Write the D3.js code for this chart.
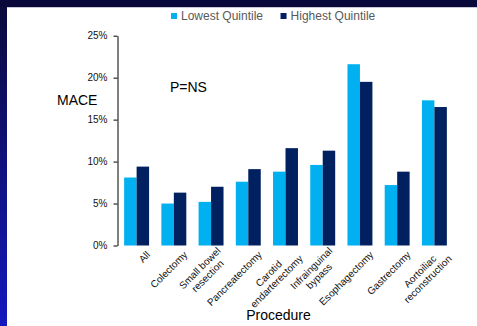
<!DOCTYPE html>
<html>
<head>
<meta charset="utf-8">
<script src="https://cdn.jsdelivr.net/npm/d3@7"></script>
<style>
  html, body { margin: 0; padding: 0; background: #fff; overflow: hidden; width: 477px; height: 326px; }
  svg { display: block; font-family: "Liberation Sans", Arial, sans-serif; }
</style>
</head>
<body>
<svg id="chart"></svg>
<script>
// chart data
var categories = ["All", "Colectomy", "Small bowel\nresection", "Pancreatectomy", "Carotid\nendarterectomy",
    "Infrainguinal\nbypass", "Esophagectomy", "Gastrectomy", "Aortoiliac\nreconstruction"];
var seriesNames = ["Lowest Quintile", "Highest Quintile"];
var lowestQuintile = [0.081, 0.050, 0.052, 0.076, 0.088, 0.096, 0.216, 0.072, 0.173];
var highestQuintile = [0.094, 0.063, 0.070, 0.091, 0.116, 0.113, 0.195, 0.088, 0.165];
var yTicks = [0, 0.05, 0.10, 0.15, 0.20, 0.25];

var svgWidth = 477, svgHeight = 326;
var colors = ["#00b0f0", "#002060"];

var svg = d3.select("#chart")
    .attr("width", svgWidth)
    .attr("height", svgHeight);

// slide frame: dark strip on top, gradient strip on the left
var defs = svg.append("defs");
var grad = defs.append("linearGradient").attr("id", "leftStrip")
    .attr("x1", 0).attr("y1", 0).attr("x2", 0).attr("y2", 1);
grad.append("stop").attr("offset", "0%").attr("stop-color", "#0a0a3a");
grad.append("stop").attr("offset", "100%").attr("stop-color", "#1518bd");

svg.append("rect").attr("width", svgWidth).attr("height", svgHeight).attr("fill", "#fff");
svg.append("rect").attr("x", 0).attr("y", 0).attr("width", 7).attr("height", svgHeight).attr("fill", "url(#leftStrip)");
svg.append("rect").attr("x", 0).attr("y", 0).attr("width", svgWidth).attr("height", 7).attr("fill", "#08083a");
svg.append("rect").attr("x", 7).attr("y", 7).attr("width", svgWidth - 7).attr("height", 1).attr("fill", "#c9c9d6");

var rows = categories.map(function (c, i) {
    return { cat: c, values: [lowestQuintile[i], highestQuintile[i]] };
});

var x0 = d3.scaleBand()
    .domain(categories)
    .range([118, 453])
    .paddingInner(0.33)
    .paddingOuter(0.165);

var x1 = d3.scaleBand()
    .domain([0, 1])
    .range([0, x0.bandwidth()]);

var yScale = d3.scaleLinear()
    .domain([0, 0.25])
    .range([245.5, 35.7]);

// bars
var groups = svg.append("g").selectAll("g")
    .data(rows)
    .enter()
    .append("g")
    .attr("transform", function (d) { return "translate(" + x0(d.cat) + ",0)"; });

groups.selectAll("rect")
    .data(function (d) { return d.values; })
    .enter()
    .append("rect")
    .attr("x", function (d, i) { return x1(i); })
    .attr("y", function (d) { return yScale(d); })
    .attr("width", x1.bandwidth())
    .attr("height", function (d) { return yScale(0) - yScale(d); })
    .attr("fill", function (d, i) { return colors[i]; });

// y axis
var y_axis = d3.axisLeft(yScale)
    .tickValues(yTicks)
    .tickFormat(d3.format(".0%"))
    .tickSize(4)
    .tickSizeOuter(0)
    .tickPadding(6);

var yAxisG = svg.append("g")
    .attr("transform", "translate(117.5,0)")
    .call(y_axis);
yAxisG.selectAll("text").attr("font-size", 10).attr("fill", "#111").attr("font-family", null);
yAxisG.selectAll("line, path").attr("stroke", "#000");

// rotated category labels, lines centred on each other
var labelG = svg.append("g").selectAll("g")
    .data(categories)
    .enter()
    .append("g")
    .attr("transform", function (d) {
        return "translate(" + (x0(d) + x0.bandwidth() / 2) + ",245.5) rotate(-45)";
    });

labelG.each(function (d) {
    var g = d3.select(this);
    var lines = d.split("\n");
    var texts = g.selectAll("text").data(lines).enter().append("text")
        .text(function (t) { return t; })
        .attr("font-size", 10)
        .attr("fill", "#111")
        .attr("text-anchor", "middle");
    var maxW = 0;
    texts.each(function () { maxW = Math.max(maxW, this.getComputedTextLength()); });
    var n = lines.length;
    texts.attr("x", 3 - maxW / 2)
        .attr("y", function (t, i) { return 17 + (i - (n - 1) / 2) * 11; });
});

// axis titles and note
svg.append("text").attr("x", 57).attr("y", 105).attr("font-size", 14).attr("fill", "#000").text("MACE");
svg.append("text").attr("x", 170).attr("y", 91.5).attr("font-size", 14).attr("fill", "#000").text("P=NS");
svg.append("text").attr("x", 278.5).attr("y", 320).attr("font-size", 14).attr("fill", "#000")
    .attr("text-anchor", "middle").text("Procedure");

// legend
var legendX = 171;
seriesNames.forEach(function (name, i) {
    svg.append("rect").attr("x", legendX).attr("y", 13).attr("width", 6).attr("height", 6).attr("fill", colors[i]);
    var t = svg.append("text").attr("x", legendX + 10).attr("y", 19.5)
        .attr("font-size", 12).attr("fill", "#595959").text(name);
    legendX += 10 + t.node().getComputedTextLength() + 17.5;
});
</script>
</body>
</html>
